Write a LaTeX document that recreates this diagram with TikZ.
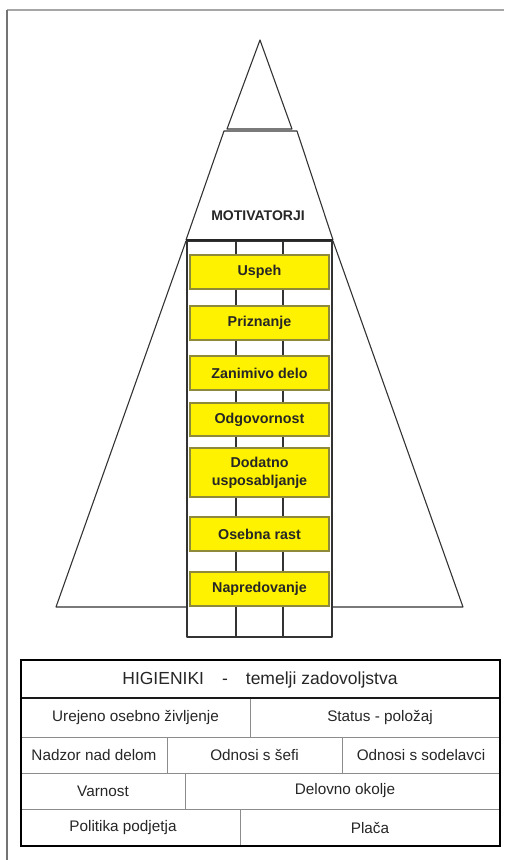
\documentclass[tikz,border=0pt]{standalone}
\usepackage{fontspec}
\setmainfont{Liberation Sans}
\begin{document}
\begin{tikzpicture}[x=1pt,y=-1pt,
  pline/.style={draw=black!80, line width=1.1pt, line join=round},
  ybox/.style={draw=olive!60!gray, fill=yellow, line width=1.1pt, minimum width=139pt, inner sep=0pt,
    font=\fontsize{14.3}{18}\selectfont\bfseries, text=black!85, align=center},
  title/.style={font=\fontsize{14}{16}\selectfont\bfseries, text=black!85, inner sep=0pt},
  cell/.style={font=\fontsize{15.3}{18}\selectfont, text=black!85, inner sep=0pt},
  head/.style={font=\fontsize{17.5}{20}\selectfont, text=black!85, inner sep=0pt},
  rowline/.style={draw=black!45, line width=1pt},
  frame/.style={line width=1.1pt}
]
\useasboundingbox (0,0) rectangle (504,860);
% outer frame
\draw[frame, draw=black!35] (7,10) -- (504,10);
\draw[frame, draw=black!55] (7,10) -- (7,860);
% pyramid
\draw[pline] (260,40) -- (292,129) -- (227,129) -- cycle;
\draw[pline] (224,131) -- (297,131) -- (333,240) -- (186,240) -- cycle;
\draw[pline] (186,241) -- (56,607) -- (463,607) -- (333,241);
% column
\draw[pline, fill=white] (187,241) rectangle (332,637);
\draw[pline] (236,241) -- (236,637);
\draw[pline] (283,241) -- (283,637);
\draw[draw=black!85, line width=2.2pt] (186,240) -- (333,240);
\node[title] (mot) at (258,216) {MOTIVATORJI};
% yellow boxes
\node[ybox, minimum height=34pt] (b1) at (259.5,272) {Uspeh};
\node[ybox, minimum height=34pt] (b2) at (259.5,323) {Priznanje};
\node[ybox, minimum height=34pt] (b3) at (259.5,373) {Zanimivo delo};
\node[ybox, minimum height=33pt] (b4) at (259.5,419.5) {Odgovornost};
\node[ybox, minimum height=49pt] (b5) at (259.5,472.5) {Dodatno\\usposabljanje};
\node[ybox, minimum height=34pt] (b6) at (259.5,534) {Osebna rast};
\node[ybox, minimum height=34pt] (b7) at (259.5,589) {Napredovanje};
% table lines
\draw[rowline] (21,737) -- (500,737);
\draw[rowline] (21,773) -- (500,773);
\draw[rowline] (21,809) -- (500,809);
\draw[rowline] (250,698) -- (250,737);
\draw[rowline] (167,737) -- (167,773);
\draw[rowline] (342,737) -- (342,773);
\draw[rowline] (185,773) -- (185,809);
\draw[rowline] (240,809) -- (240,846);
\draw[draw=black!90, line width=2pt] (21,698) -- (500,698);
\draw[draw=black, line width=2.4pt] (21,660) rectangle (500,846);
% table texts
\node[head] (h) at (260,680) {HIGIENIKI\hspace{18pt}-\hspace{18pt}temelji zadovoljstva};
\node[cell] (c11) at (135.5,718) {Urejeno osebno življenje};
\node[cell] (c12) at (380,718) {Status - položaj};
\node[cell] (c21) at (94,755) {Nadzor nad delom};
\node[cell] (c22) at (254.5,755) {Odnosi s šefi};
\node[cell] (c23) at (421,755) {Odnosi s sodelavci};
\node[cell] (c31) at (103,791) {Varnost};
\node[cell] (c32) at (345,791) {Delovno okolje};
\node[cell] (c41) at (123,828) {Politika podjetja};
\node[cell] (c42) at (370,828) {Plača};
\end{tikzpicture}
\end{document}
